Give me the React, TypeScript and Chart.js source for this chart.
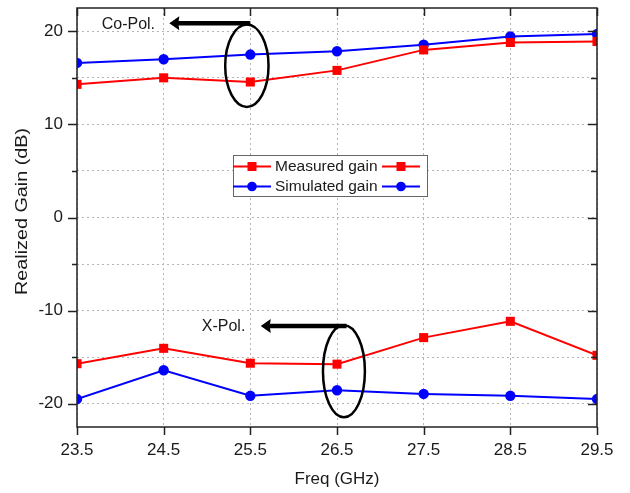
import React, { useEffect, useRef } from "react";
import { Chart, registerables } from "chart.js";

Chart.register(...registerables);

// ---- Data ----
const freqs = [23.5, 24.5, 25.5, 26.5, 27.5, 28.5, 29.5];
const measuredCoPol = [14.3, 15.0, 14.55, 15.8, 18.0, 18.8, 18.9];
const simulatedCoPol = [16.6, 17.0, 17.5, 17.85, 18.55, 19.45, 19.7];
const measuredXPol = [-15.7, -14.05, -15.65, -15.75, -12.9, -11.15, -14.8];
const simulatedXPol = [-19.5, -16.4, -19.15, -18.55, -18.95, -19.15, -19.5];
const xTicks = [23.5, 24.5, 25.5, 26.5, 27.5, 28.5, 29.5];
const yTicks = [-20, -15, -10, -5, 0, 5, 10, 15, 20];
const yLabelTicks = [-20, -10, 0, 10, 20];
const legendLabels = ["Measured gain", "Simulated gain"];
const xTitle = "Freq (GHz)";
const yTitle = "Realized Gain (dB)";

const RED = "#ff0000";
const BLUE = "#0000ff";
const TEXT = "#1a1a1a";
const FONT = '"Liberation Sans", Arial, sans-serif';

// annotation placement in data coordinates
const coPolNote = { text: "Co-Pol.", textX: 23.785, textY: 20.75, arrowFrom: 25.5, arrowTo: 24.565, arrowY: 20.86, ex: 25.46, ey: 16.3, erx: 0.25, ery: 4.42 };
const xPolNote = { text: "X-Pol.", textX: 24.94, textY: -11.74, arrowFrom: 26.61, arrowTo: 25.62, arrowY: -11.66, ex: 26.58, ey: -16.5, erx: 0.242, ery: 4.94 };

const decorPlugin = {
  id: "decor",
  afterDraw(chart: any) {
    const { ctx, chartArea: a } = chart;
    const x = chart.scales.x;
    const y = chart.scales.y;
    ctx.save();

    // frame
    ctx.strokeStyle = "#222";
    ctx.lineWidth = 1.5;
    ctx.strokeRect(a.left, a.top, a.right - a.left, a.bottom - a.top);

    // tick marks
    ctx.beginPath();
    for (const v of yTicks) {
      const py = Math.round(y.getPixelForValue(v)) + 0.5;
      const major = v % 10 === 0;
      ctx.moveTo(a.left - (major ? 9 : 5), py);
      ctx.lineTo(a.left, py);
      ctx.moveTo(a.right, py);
      ctx.lineTo(a.right - (major ? 9 : 6), py);
    }
    for (const v of xTicks) {
      const px = Math.round(x.getPixelForValue(v)) + 0.5;
      ctx.moveTo(px, a.bottom);
      ctx.lineTo(px, a.bottom + 8);
      ctx.moveTo(px, a.top);
      ctx.lineTo(px, a.top + 8);
    }
    ctx.stroke();

    // annotations
    const drawNote = (n: any) => {
      ctx.strokeStyle = "#000";
      ctx.fillStyle = "#000";
      ctx.lineWidth = 2.5;
      ctx.beginPath();
      ctx.ellipse(
        x.getPixelForValue(n.ex),
        y.getPixelForValue(n.ey),
        Math.abs(x.getPixelForValue(n.ex + n.erx) - x.getPixelForValue(n.ex)),
        Math.abs(y.getPixelForValue(n.ey + n.ery) - y.getPixelForValue(n.ey)),
        0, 0, Math.PI * 2
      );
      ctx.stroke();
      const ay = y.getPixelForValue(n.arrowY);
      const x1 = x.getPixelForValue(n.arrowFrom);
      const tip = x.getPixelForValue(n.arrowTo);
      ctx.lineWidth = 4.5;
      ctx.beginPath();
      ctx.moveTo(x1, ay);
      ctx.lineTo(tip + 7, ay);
      ctx.stroke();
      ctx.beginPath();
      ctx.moveTo(tip, ay);
      ctx.lineTo(tip + 10, ay - 7);
      ctx.lineTo(tip + 9, ay);
      ctx.lineTo(tip + 10, ay + 7);
      ctx.closePath();
      ctx.fill();
      ctx.fillStyle = TEXT;
      ctx.font = "16px " + FONT;
      ctx.textAlign = "left";
      ctx.textBaseline = "middle";
      ctx.fillText(n.text, x.getPixelForValue(n.textX), y.getPixelForValue(n.textY));
    };
    drawNote(coPolNote);
    drawNote(xPolNote);

    // legend
    const lx = 233, ly = 155, lw = 194, lh = 41;
    ctx.fillStyle = "#fff";
    ctx.fillRect(lx, ly, lw, lh);
    ctx.strokeStyle = "#666";
    ctx.lineWidth = 1;
    ctx.strokeRect(lx + 0.5, ly + 0.5, lw, lh);
    const rows = [
      { label: legendLabels[0], color: RED, style: "rect", cy: 166.5 },
      { label: legendLabels[1], color: BLUE, style: "circle", cy: 186.5 },
    ];
    for (const r of rows) {
      ctx.strokeStyle = r.color;
      ctx.fillStyle = r.color;
      ctx.lineWidth = 2;
      ctx.beginPath();
      ctx.moveTo(lx, r.cy);
      ctx.lineTo(lx + 38, r.cy);
      ctx.moveTo(lx + 149, r.cy);
      ctx.lineTo(lx + 187, r.cy);
      ctx.stroke();
      for (const mx of [lx + 19, lx + 168]) {
        ctx.beginPath();
        if (r.style === "rect") ctx.rect(mx - 4.5, r.cy - 4.5, 9, 9);
        else ctx.arc(mx, r.cy, 4.8, 0, Math.PI * 2);
        ctx.fill();
      }
      ctx.fillStyle = TEXT;
      ctx.font = "15.5px " + FONT;
      ctx.textAlign = "left";
      ctx.textBaseline = "middle";
      ctx.fillText(r.label, lx + 42, r.cy + 0.5);
    }

    // axis titles
    ctx.fillStyle = TEXT;
    ctx.font = "17px " + FONT;
    ctx.textAlign = "center";
    ctx.textBaseline = "middle";
    ctx.fillText(xTitle, (a.left + a.right) / 2, 479);
    ctx.save();
    ctx.translate(22, 211.5);
    ctx.rotate(-Math.PI / 2);
    const w = ctx.measureText(yTitle).width;
    ctx.scale(167 / w, 1);
    ctx.fillText(yTitle, 0, 0);
    ctx.restore();

    ctx.restore();
  },
};

export default function App() {
  const ref = useRef<HTMLCanvasElement>(null);
  useEffect(() => {
    if (!ref.current) return;
    const mk = (vals: number[]) => freqs.map((f, i) => ({ x: f, y: vals[i] }));
    const common = { borderWidth: 2, clip: 0, showLine: true };
    const chart = new Chart(ref.current, {
      type: "scatter",
      data: {
        datasets: [
          { ...common, label: legendLabels[0], data: mk(measuredCoPol), borderColor: RED, backgroundColor: RED, pointStyle: "rect", pointRadius: 6.4, pointBorderWidth: 0 },
          { ...common, label: legendLabels[1], data: mk(simulatedCoPol), borderColor: BLUE, backgroundColor: BLUE, pointStyle: "circle", pointRadius: 5.2, pointBorderWidth: 0 },
          { ...common, label: legendLabels[0] + " X", data: mk(measuredXPol), borderColor: RED, backgroundColor: RED, pointStyle: "rect", pointRadius: 6.4, pointBorderWidth: 0 },
          { ...common, label: legendLabels[1] + " X", data: mk(simulatedXPol), borderColor: BLUE, backgroundColor: BLUE, pointStyle: "circle", pointRadius: 5.2, pointBorderWidth: 0 },
        ],
      } as any,
      options: {
        animation: false,
        responsive: false,
        layout: { padding: { top: 8, right: 33, left: 0, bottom: 0 } },
        plugins: { legend: { display: false }, tooltip: { enabled: false } },
        scales: {
          x: {
            type: "linear",
            min: 23.5,
            max: 29.5,
            afterBuildTicks: (s: any) => { s.ticks = xTicks.map((v) => ({ value: v })); },
            afterFit: (s: any) => { s.height = 66; s.paddingLeft = 0; s.paddingRight = 0; },
            ticks: { color: TEXT, font: { family: FONT, size: 17 }, padding: 13, maxRotation: 0, autoSkip: false, callback: (v: any) => Number(v).toFixed(1) },
            grid: { color: "#b5b5b5", lineWidth: 1, drawTicks: false },
            border: { display: false, dash: [2, 3] },
          },
          y: {
            type: "linear",
            min: -22.5,
            max: 22.5,
            afterBuildTicks: (s: any) => { s.ticks = yTicks.map((v) => ({ value: v })); },
            afterFit: (s: any) => { s.width = 77; s.paddingTop = 0; s.paddingBottom = 0; },
            ticks: { color: TEXT, font: { family: FONT, size: 17 }, padding: 14, autoSkip: false, callback: (v: any) => (yLabelTicks.includes(Number(v)) ? String(v) : "") },
            grid: { color: "#b5b5b5", lineWidth: 1, drawTicks: false },
            border: { display: false, dash: [2, 3] },
          },
        },
      } as any,
      plugins: [decorPlugin],
    });
    return () => chart.destroy();
  }, []);
  return (
    <div style={{ position: "fixed", left: 0, top: 0, width: 630, height: 493, background: "#fff" }}>
      <canvas ref={ref} width={630} height={493} style={{ display: "block" }} />
    </div>
  );
}
